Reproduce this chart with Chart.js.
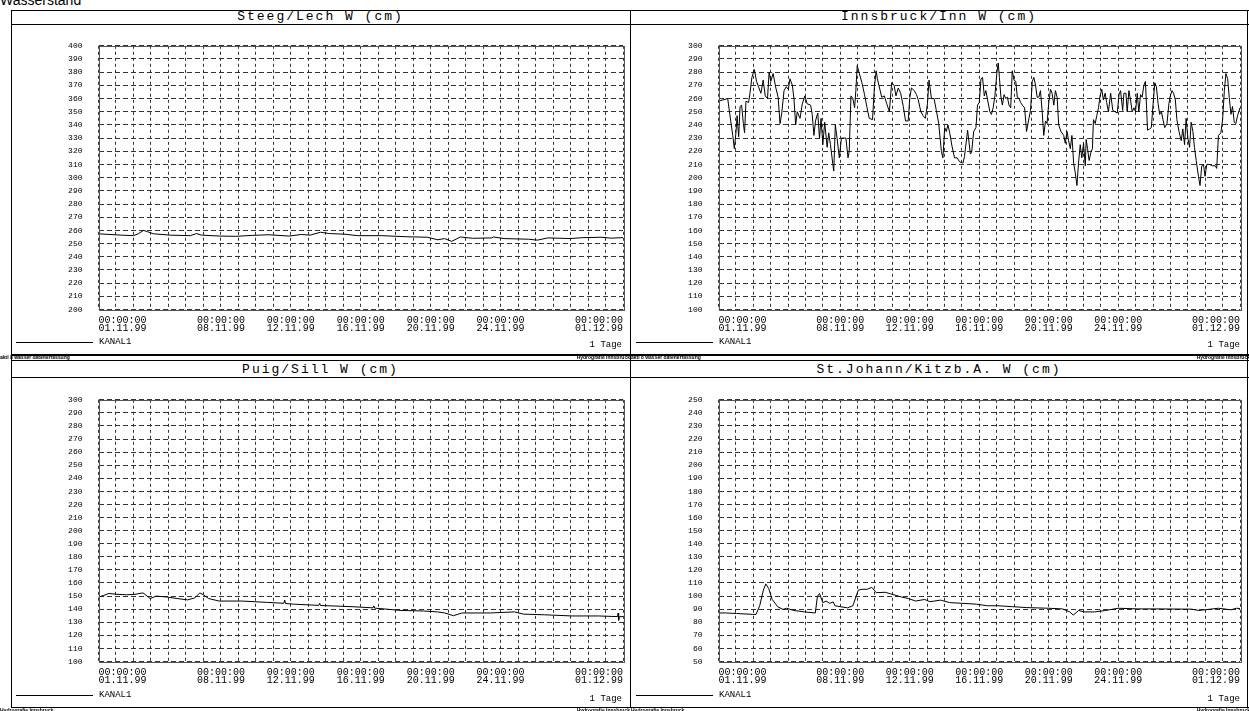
<!DOCTYPE html>
<html>
<head>
<meta charset="utf-8">
<script src="https://cdn.jsdelivr.net/npm/chart.js@4.4.0/dist/chart.umd.min.js"></script>
<style>
body{margin:0;width:1249px;height:711px;overflow:hidden;background:#fff;position:relative;font-family:"Liberation Mono",monospace;color:#000}
.h{position:absolute;height:1px;background:#000}
.v{position:absolute;width:1px;background:#000}
.ttl{position:absolute;font-size:13px;line-height:14px;letter-spacing:2px;text-align:center;white-space:nowrap}
.leg{position:absolute;font-size:9px;line-height:10px;white-space:nowrap}
.tiny{position:absolute;font:bold 5px "Liberation Sans",sans-serif;line-height:5px;white-space:nowrap}
canvas{position:absolute}
</style>
</head>
<body>
<div style="position:absolute;left:0;top:-8px;font:14px 'Liberation Sans',Arial,sans-serif">Wasserstand</div>

<!-- frame lines -->
<div class="h" style="left:11px;top:10px;width:1238px"></div>
<div class="h" style="left:11px;top:24px;width:1238px"></div>
<div class="h" style="left:11px;top:354px;width:1238px;height:2px"></div>
<div class="h" style="left:11px;top:360px;width:1238px"></div>
<div class="h" style="left:11px;top:377px;width:1238px"></div>
<div class="h" style="left:11px;top:707px;width:1238px"></div>
<div class="v" style="left:11px;top:10px;height:697px"></div>
<div class="v" style="left:630px;top:10px;height:697px"></div>
<div class="v" style="left:1247px;top:10px;height:697px"></div>

<div class="ttl" style="left:11px;width:619px;top:10px">Steeg/Lech W (cm)</div>
<div class="ttl" style="left:631px;width:616px;top:10px">Innsbruck/Inn W (cm)</div>
<div class="ttl" style="left:11px;width:619px;top:363px">Puig/Sill W (cm)</div>
<div class="ttl" style="left:631px;width:616px;top:363px">St.Johann/Kitzb.A. W (cm)</div>

<canvas id="c1" width="619" height="329" style="left:11px;top:25px"></canvas>
<canvas id="c2" width="616" height="329" style="left:631px;top:25px"></canvas>
<canvas id="c3" width="619" height="328" style="left:11px;top:379px"></canvas>
<canvas id="c4" width="616" height="328" style="left:631px;top:379px"></canvas>

<!-- legends -->
<div class="h" style="left:16px;top:342px;width:77px"></div>
<div class="leg" style="left:99px;top:337px">KANAL1</div>
<div class="leg" style="left:560px;width:62px;text-align:right;top:340px">1 Tage</div>
<div class="h" style="left:636px;top:342px;width:77px"></div>
<div class="leg" style="left:719px;top:337px">KANAL1</div>
<div class="leg" style="left:1178px;width:62px;text-align:right;top:340px">1 Tage</div>
<div class="h" style="left:16px;top:695px;width:77px"></div>
<div class="leg" style="left:99px;top:690px">KANAL1</div>
<div class="leg" style="left:560px;width:62px;text-align:right;top:694px">1 Tage</div>
<div class="h" style="left:636px;top:695px;width:77px"></div>
<div class="leg" style="left:719px;top:690px">KANAL1</div>
<div class="leg" style="left:1178px;width:62px;text-align:right;top:694px">1 Tage</div>

<!-- footers -->
<div class="tiny" style="left:0;top:355px">aktl 8 wasser datenerfassung</div>
<div class="tiny" style="left:530px;width:100px;text-align:right;top:355px">Hydrografie Innsbruck</div>
<div class="tiny" style="left:631px;top:355px">aktl 8 wasser datenerfassung</div>
<div class="tiny" style="left:1150px;width:100px;text-align:right;top:355px">Hydrografie Innsbruck</div>
<div class="tiny" style="left:0;top:708px">Hydrografie Innsbruck</div>
<div class="tiny" style="left:530px;width:100px;text-align:right;top:708px">Hydrografie Innsbruck</div>
<div class="tiny" style="left:631px;top:708px">Hydrografie Innsbruck</div>
<div class="tiny" style="left:1150px;width:100px;text-align:right;top:708px">Hydrografie Innsbruck</div>

<script>
// x axis: days since 01.11.99 00:00
var tickDays = [0, 7, 11, 15, 19, 23, 30];
var tickDates = ['01.11.99', '08.11.99', '12.11.99', '16.11.99', '20.11.99', '24.11.99', '01.12.99'];
var tickTime = '00:00:00';

// Steeg/Lech
var steegDays = [0,1.3,2.0,2.3,2.57,2.8,3.15,4.1,5.26,5.6,5.9,6.9,7.85,8.8,9.2,9.7,10.9,11.6,12.1,12.7,13.2,14.1,14.8,16.2,17.6,18.8,19.4,19.8,20.2,20.7,21.4,22.5,22.6,23.2,24.6,25.1,25.7,27.0,27.7,28.8,29.3,30];
var steegLevel = [257.4,256.4,256,257.6,260,259,257.4,256.4,256,257.6,256.4,255.7,255.5,256.2,256.4,256.7,255.7,256.9,256.4,258.6,257.6,257.1,256,256,255.2,254.8,252.9,253.8,251.7,255,254,254.3,255,253.8,253.3,252.6,254.3,253.8,254.5,254.8,254.1,254.5];

// Innsbruck/Inn
var innDays = [0,0.53,0.63,0.82,0.91,1.01,1.07,1.16,1.24,1.33,1.43,1.5,1.58,1.73,1.81,1.92,2.06,2.19,2.3,2.44,2.57,2.69,2.82,2.91,3.01,3.14,3.3,3.43,3.54,3.64,3.77,3.9,4.02,4.11,4.25,4.34,4.44,4.53,4.69,4.82,4.97,5.1,5.3,5.39,5.49,5.58,5.71,5.81,5.9,6.0,6.11,6.25,6.34,6.44,6.57,6.63,6.72,6.82,6.95,7.07,7.33,7.45,7.52,7.62,7.73,7.83,7.9,7.98,8.1,8.25,8.4,8.53,8.67,8.86,8.97,9.07,9.14,9.3,9.39,9.54,9.68,9.83,9.96,10.1,10.21,10.34,10.48,10.63,10.76,10.91,11.01,11.1,11.26,11.39,11.49,11.64,11.77,11.9,12.02,12.11,12.25,12.4,12.53,12.67,12.82,12.91,13.01,13.1,13.2,13.3,13.43,13.58,13.73,13.87,14.06,14.15,14.33,14.49,14.56,14.68,14.81,14.9,15.0,15.1,15.19,15.29,15.38,15.48,15.61,15.7,15.8,15.9,16.01,16.09,16.16,16.24,16.33,16.43,16.52,16.62,16.71,16.81,16.9,17.0,17.1,17.19,17.29,17.38,17.48,17.61,17.72,17.86,17.95,18.05,18.14,18.24,18.33,18.43,18.52,18.62,18.71,18.81,18.9,19.0,19.1,19.19,19.29,19.38,19.48,19.57,19.7,19.86,19.95,20.05,20.14,20.24,20.33,20.43,20.52,20.62,20.71,20.81,20.9,21.0,21.1,21.15,21.23,21.32,21.42,21.51,21.57,21.67,21.76,21.86,21.95,22.05,22.14,22.24,22.33,22.43,22.56,22.68,22.81,22.94,23.04,23.13,23.25,23.32,23.44,23.51,23.61,23.7,23.8,23.9,23.99,24.09,24.18,24.28,24.37,24.47,24.56,24.62,24.68,24.81,24.9,25.0,25.1,25.19,25.29,25.38,25.48,25.57,25.67,25.8,25.91,25.99,26.09,26.18,26.28,26.37,26.49,26.62,26.71,26.81,26.9,27.0,27.1,27.19,27.29,27.38,27.48,27.61,27.7,27.8,27.9,27.99,28.09,28.24,28.43,28.58,28.66,28.76,28.9,29.0,29.1,29.19,29.29,29.38,29.48,29.57,29.67,29.76,29.86,30];
var innLevel = [258,260,250,232,222,235,247,231,254,255,241,234,258,257,264,276,282,273,269,264,274,262,260,280,273,279,268,261,241,249,266,269,267,275,270,260,240,250,245,256,262,256,255,248,232,243,249,230,245,225,242,223,234,225,211,205,240,230,215,230,230,215,220,262,260,253,266,285,279,272,263,254,245,244,269,281,275,266,261,262,256,250,272,270,262,268,264,254,243,243,261,268,266,263,259,250,247,245,256,274,260,260,251,241,220,215,238,235,240,234,224,215,215,212,211,216,236,218,219,235,238,255,257,275,276,262,266,259,250,248,253,262,279,287,276,262,255,263,260,261,255,253,281,274,273,261,260,257,255,253,235,245,251,273,276,270,261,261,266,250,232,243,241,257,267,264,255,266,261,240,235,232,226,235,228,222,232,211,204,194,211,225,215,226,209,229,222,213,219,222,244,241,247,253,262,267,259,264,257,250,264,251,250,249,263,266,251,264,264,250,266,259,250,253,250,264,250,263,261,270,273,255,236,237,238,256,272,269,256,248,250,244,238,241,256,262,266,264,259,244,235,228,237,225,245,230,223,242,235,223,213,201,194,209,210,201,210,210,209,209,207,232,234,244,266,279,275,261,248,254,242,241,247,253];

// Puig/Sill
var puigDays = [0,0.3,0.6,1.0,1.6,2.0,2.55,2.96,3.3,3.9,4.5,5.1,5.5,5.8,6.0,6.3,6.9,8.2,9.6,10.6,10.65,10.7,11.2,12.6,12.65,12.7,14.5,15.7,15.75,15.8,17.3,18.6,19.4,19.8,20.3,20.8,22.4,23.8,24.3,25.5,27.1,28.6,29.7,29.72,29.75,29.8,30];
var puigLevel = [149.3,150.5,152,151.4,151,151.2,152.4,148.1,150,149.3,148.1,147.1,148.6,152.4,151,148.1,146.2,146.2,145.2,144.5,147,144.3,143.8,142.9,144.5,142.8,141.9,141,142.5,140.8,139,138.6,137.9,137.1,135,137.1,137.1,137.9,136.2,135.7,134.8,134.8,134.3,137,131.5,134.3,134.3];

// St.Johann/Kitzb.A.
var johannDays = [0,0.4,1.03,1.96,2.16,2.37,2.58,2.72,2.89,3.09,3.4,3.71,3.92,4.33,4.95,5.57,5.69,5.81,6.0,6.19,6.39,6.6,6.7,7.01,7.42,7.73,8.04,8.25,8.56,8.82,9.07,9.59,9.9,10.52,10.93,11.34,11.86,12.16,12.78,13.3,14.0,14.85,15.46,16.08,16.91,17.73,18.97,19.79,20.2,20.41,20.72,21.03,21.65,22.27,22.99,24.12,25.15,27.22,27.63,28.76,29.48,29.79,30];
var johannLevel = [87.1,87.1,86.7,86,86,92.6,104.5,109.3,105.7,97.4,91.9,89.8,90.7,89,87.9,87.1,99.8,102,95,96.2,94.5,95.5,92.6,91.9,91,92.6,104.5,105.2,105.2,106.7,102.6,102.9,101.7,99.3,98.1,96.2,97.4,95.7,96.9,95,94.5,93.8,92.6,92.6,91.9,91.2,90.7,90.2,87.9,85.5,89,87.9,87.9,89,90.7,90.2,90.2,90,89,90.7,89.5,90.7,90.5];

var framePlugin = {
  id: 'frame',
  afterDraw: function (chart) {
    var a = chart.chartArea, ctx = chart.ctx;
    ctx.save();
    ctx.strokeStyle = '#555';
    ctx.lineWidth = 1;
    ctx.strokeRect(Math.round(a.left) + 0.5, Math.round(a.top) + 0.5, Math.round(a.right - a.left), Math.round(a.bottom - a.top));
    ctx.restore();
  }
};

function makeChart(id, days, levels, yMin, yMax, padTop, padRight, xHeight) {
  var points = days.map(function (d, i) { return { x: d, y: levels[i] }; });
  new Chart(document.getElementById(id), {
    type: 'line',
    data: {
      datasets: [{
        data: points,
        borderColor: '#000',
        borderWidth: 1,
        pointRadius: 0,
        tension: 0,
        fill: false
      }]
    },
    options: {
      responsive: false,
      animation: false,
      layout: { padding: { left: 0, right: padRight, top: padTop, bottom: 0 } },
      plugins: { legend: { display: false }, tooltip: { enabled: false } },
      scales: {
        x: {
          type: 'linear',
          min: 0,
          max: 30,
          afterFit: function (s) { s.height = xHeight; },
          grid: { color: '#333', drawTicks: false },
          border: { display: false, dash: [3, 3] },
          ticks: {
            stepSize: 1,
            autoSkip: false,
            maxRotation: 0,
            align: 'inner',
            padding: 7,
            color: '#000',
            font: { family: 'Liberation Mono', size: 10, lineHeight: 0.8 },
            callback: function (v) {
              var i = tickDays.indexOf(v);
              return i < 0 ? '' : [tickTime, tickDates[i]];
            }
          }
        },
        y: {
          min: yMin,
          max: yMax,
          afterFit: function (s) { s.width = 87.5; },
          grid: { color: '#333', drawTicks: false },
          border: { display: false, dash: [5, 3] },
          ticks: {
            stepSize: 10,
            padding: 16,
            color: '#000',
            font: { family: 'Liberation Mono', size: 8 }
          }
        }
      }
    },
    plugins: [framePlugin]
  });
}

makeChart('c1', steegDays, steegLevel, 200, 400, 8, 6.5, 44.5);
makeChart('c2', innDays, innLevel, 100, 300, 8, 4, 44.5);
makeChart('c3', puigDays, puigLevel, 100, 300, 6, 6.5, 45.5);
makeChart('c4', johannDays, johannLevel, 50, 250, 6, 4, 45.5);
</script>
</body>
</html>
